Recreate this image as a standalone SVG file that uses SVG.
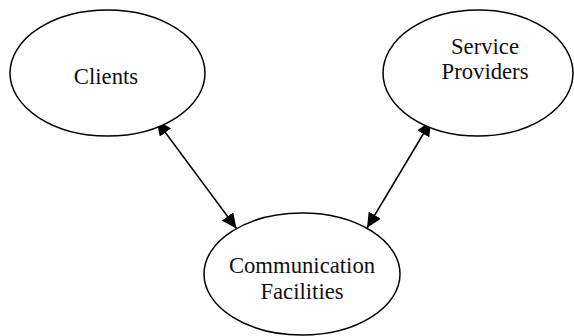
<svg xmlns="http://www.w3.org/2000/svg" width="574" height="336" viewBox="0 0 574 336">
<style>
.n{fill:#fff;stroke:#000;stroke-width:1.5}
.t{font-family:"Liberation Serif","Times New Roman",serif;font-size:22.7px;fill:#111;text-anchor:middle}
.e{stroke:#000;stroke-width:1.5;fill:none;marker-start:url(#ah);marker-end:url(#ah)}
</style>
<defs>
<marker id="ah" viewBox="0 0 15 14" refX="15" refY="7" markerWidth="15" markerHeight="14" markerUnits="userSpaceOnUse" orient="auto-start-reverse">
<path d="M0,0 L15,7 L0,14 Z" fill="#000"/>
</marker>
</defs>
<rect width="574" height="336" fill="#fff"/>
<g id="connectors">
<line class="e" x1="156.5" y1="120.5" x2="236.5" y2="228.5"/>
<line class="e" x1="431" y1="121" x2="367" y2="228"/>
</g>
<g id="clients">
<ellipse class="n" cx="107.5" cy="73" rx="97.5" ry="63"/>
<text class="t" x="106" y="84">Clients</text>
</g>
<g id="service-providers">
<ellipse class="n" cx="478" cy="73" rx="95" ry="63"/>
<text class="t" x="485" y="54">Service</text>
<text class="t" x="485" y="79">Providers</text>
</g>
<g id="communication-facilities">
<ellipse class="n" cx="302" cy="274" rx="98" ry="61"/>
<text class="t" x="302" y="273">Communication</text>
<text class="t" x="302" y="299">Facilities</text>
</g>
</svg>
